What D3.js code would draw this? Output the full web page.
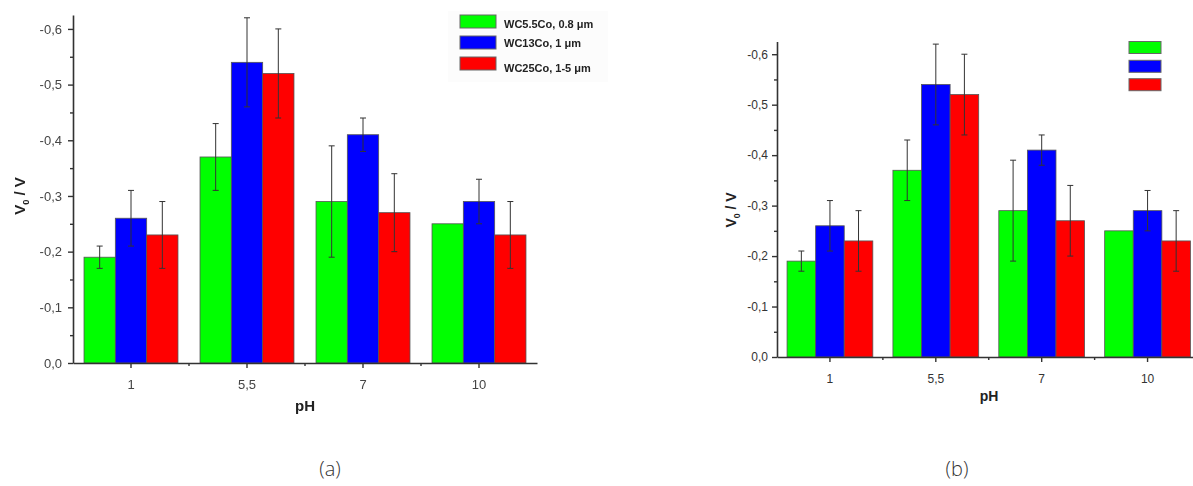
<!DOCTYPE html>
<html>
<head>
<meta charset="utf-8">
<script src="https://cdn.jsdelivr.net/npm/d3@7"></script>
<style>
  html, body { margin: 0; padding: 0; background: #fff; }
  svg { display: block; }
  text { font-family: "Liberation Sans", Arial, sans-serif; }
</style>
</head>
<body>
<svg id="fig" width="1193" height="486"></svg>
<script>
// pH values on the category axis
const categories = ["1", "5,5", "7", "10"];
// Alloy grades (series)
const seriesNames = ["WC5.5Co, 0.8 μm", "WC13Co, 1 μm", "WC25Co, 1-5 μm"];
const seriesColors = ["#00ff00", "#0000ff", "#ff0000"];
// Open-circuit potential V0 (V), one array per series, in category order
const wc55co = [-0.19, -0.37, -0.29, -0.25];
const wc13co = [-0.26, -0.54, -0.41, -0.29];
const wc25co = [-0.23, -0.52, -0.27, -0.23];
// Standard deviations (V)
const wc55coErr = [0.02, 0.06, 0.10, 0];
const wc13coErr = [0.05, 0.08, 0.03, 0.04];
const wc25coErr = [0.06, 0.08, 0.07, 0.06];
// Y-axis ticks
const yTicks = [0, -0.1, -0.2, -0.3, -0.4, -0.5, -0.6];
const yMinorTicks = [-0.05, -0.15, -0.25, -0.35, -0.45, -0.55];
const panelLabels = ["(a)", "(b)"];

const seriesValues = [wc55co, wc13co, wc25co];
const seriesErrors = [wc55coErr, wc13coErr, wc25coErr];
const rows = categories.map((c, i) => ({
  cat: c,
  bars: seriesNames.map((s, k) => ({ key: s, k, v: seriesValues[k][i], e: seriesErrors[k][i] }))
}));

const locale = d3.formatLocale({ decimal: ",", thousands: ".", grouping: [3], currency: ["", ""], minus: "-" });
const fmt = locale.format(".1f");

const svg = d3.select("#fig");
const defs = svg.append("defs");
defs.append("filter").attr("id", "soft").attr("x", "-5%").attr("y", "-5%").attr("width", "110%").attr("height", "110%")
  .append("feGaussianBlur").attr("stdDeviation", 0.45);

function drawPanel(opt) {
  const g = svg.append("g");
  if (opt.soft) g.attr("filter", "url(#soft)");

  const x = d3.scaleBand().domain(categories).range([opt.x0, opt.x1])
    .paddingInner(0.19).paddingOuter(0.095);
  const xs = d3.scaleBand().domain(seriesNames).range([0, x.bandwidth()]);
  const y = d3.scaleLinear().domain([0, -0.625]).range([opt.y0, opt.y1]);

  // legend background (drawn first so nothing is hidden behind it)
  const L = opt.legend;
  if (L.bg) {
    g.append("rect").attr("x", L.bg[0]).attr("y", L.bg[1]).attr("width", L.bg[2]).attr("height", L.bg[3])
      .attr("fill", "#fcfcfc");
  }

  // bars
  const grp = g.selectAll("g.grp").data(rows).join("g")
    .attr("class", "grp").attr("transform", d => `translate(${x(d.cat)},0)`);
  grp.selectAll("rect").data(d => d.bars).join("rect")
    .attr("x", d => xs(d.key)).attr("width", xs.bandwidth())
    .attr("y", d => y(d.v)).attr("height", d => y(0) - y(d.v))
    .attr("fill", d => seriesColors[d.k])
    .attr("stroke", "#555").attr("stroke-width", 0.8);

  // error bars
  const eb = grp.selectAll("g.err").data(d => d.bars.filter(b => b.e > 0)).join("g")
    .attr("class", "err")
    .attr("transform", d => `translate(${xs(d.key) + xs.bandwidth() / 2},0)`)
    .attr("stroke", "#333").attr("stroke-width", 1);
  eb.append("line").attr("y1", d => y(d.v - d.e)).attr("y2", d => y(d.v + d.e));
  eb.append("line").attr("x1", -3).attr("x2", 3).attr("y1", d => y(d.v - d.e)).attr("y2", d => y(d.v - d.e));
  eb.append("line").attr("x1", -3).attr("x2", 3).attr("y1", d => y(d.v + d.e)).attr("y2", d => y(d.v + d.e));

  // y axis
  const yAxis = g.append("g").attr("transform", `translate(${opt.x0},0)`)
    .call(d3.axisLeft(y).tickValues(yTicks).tickFormat(fmt).tickSize(5).tickPadding(opt.yPad).tickSizeOuter(0));
  yAxis.select(".domain").attr("stroke", "#333").attr("stroke-width", 1.6);
  yAxis.selectAll(".tick line").attr("stroke", "#333").attr("stroke-width", 1.4);
  yAxis.selectAll(".tick text").attr("fill", opt.textColor).attr("font-size", opt.tickFont);
  g.append("g").attr("transform", `translate(${opt.x0},0)`)
    .call(d3.axisLeft(y).tickValues(yMinorTicks).tickFormat("").tickSize(3).tickSizeOuter(0))
    .call(a => a.select(".domain").remove())
    .selectAll(".tick line").attr("stroke", "#333").attr("stroke-width", 1.4);

  // x axis: ticks at category centres, short ticks at category boundaries
  const xAxis = g.append("g").attr("transform", `translate(0,${opt.y0})`)
    .call(d3.axisBottom(x).tickSize(5).tickPadding(opt.xPad).tickSizeOuter(0));
  xAxis.select(".domain").attr("stroke", "#333").attr("stroke-width", 1.6);
  xAxis.selectAll(".tick line").attr("stroke", "#333").attr("stroke-width", 1.4);
  xAxis.selectAll(".tick text").attr("fill", opt.textColor).attr("font-size", opt.tickFont);
  const bounds = categories.slice(1).map(c => x(c) - x.step() * x.paddingInner() / 2);
  xAxis.selectAll("line.minor").data(bounds).join("line").attr("class", "minor")
    .attr("x1", d => d).attr("x2", d => d).attr("y1", 0).attr("y2", 3)
    .attr("stroke", "#333").attr("stroke-width", 1.4);

  // axis titles
  const yl = g.append("text")
    .attr("transform", `translate(${opt.yLabelX},${opt.yLabelY}) rotate(-90)`)
    .attr("text-anchor", "middle").attr("font-weight", "bold").attr("font-size", opt.titleFont)
    .attr("fill", "#222");
  yl.append("tspan").text("V");
  yl.append("tspan").text("0").attr("font-size", opt.titleFont * 0.62).attr("dy", 4);
  yl.append("tspan").text(" / V").attr("dy", -4);

  g.append("text").attr("x", opt.xLabelX).attr("y", opt.xLabelY)
    .attr("text-anchor", "middle").attr("font-weight", "bold").attr("font-size", opt.titleFont)
    .attr("fill", "#222").text("pH");

  // legend entries
  const li = g.selectAll("g.leg").data(seriesNames).join("g").attr("class", "leg")
    .attr("transform", (d, i) => `translate(${L.x},${L.ys[i]})`);
  li.append("rect").attr("width", L.w).attr("height", L.h)
    .attr("fill", (d, i) => seriesColors[i]).attr("stroke", "#666").attr("stroke-width", 1);
  if (L.text) {
    li.append("text").attr("x", L.w + 8).attr("y", (d, i) => L.textDy[i])
      .attr("font-size", 11).attr("font-weight", "bold").attr("fill", "#222").text(d => d);
  }
}

drawPanel({
  x0: 73, x1: 537, y0: 363, y1: 15, soft: true,
  yPad: 6, xPad: 12, tickFont: 13, textColor: "#444", titleFont: 15,
  yLabelX: 25, yLabelY: 196, xLabelX: 305, xLabelY: 411,
  legend: { x: 460, ys: [15, 36, 57], w: 36, h: 13, text: true, textDy: [13, 11, 15], bg: [448, 11, 160, 71] }
});

drawPanel({
  x0: 777, x1: 1200.5, y0: 357, y1: 41.6, soft: false,
  yPad: 4, xPad: 12, tickFont: 12, textColor: "#333", titleFont: 14,
  yLabelX: 736, yLabelY: 210, xLabelX: 989, xLabelY: 401,
  legend: { x: 1129, ys: [41.5, 60.3, 78.7], w: 32, h: 12, text: false }
});

// panel captions
svg.selectAll("text.cap").data(panelLabels).join("text").attr("class", "cap")
  .attr("x", (d, i) => [330, 957][i]).attr("y", 476)
  .attr("text-anchor", "middle").attr("font-size", 20).attr("font-weight", 300)
  .attr("fill", "#333").style("font-family", "'Open Sans', sans-serif").text(d => d);
</script>
</body>
</html>
